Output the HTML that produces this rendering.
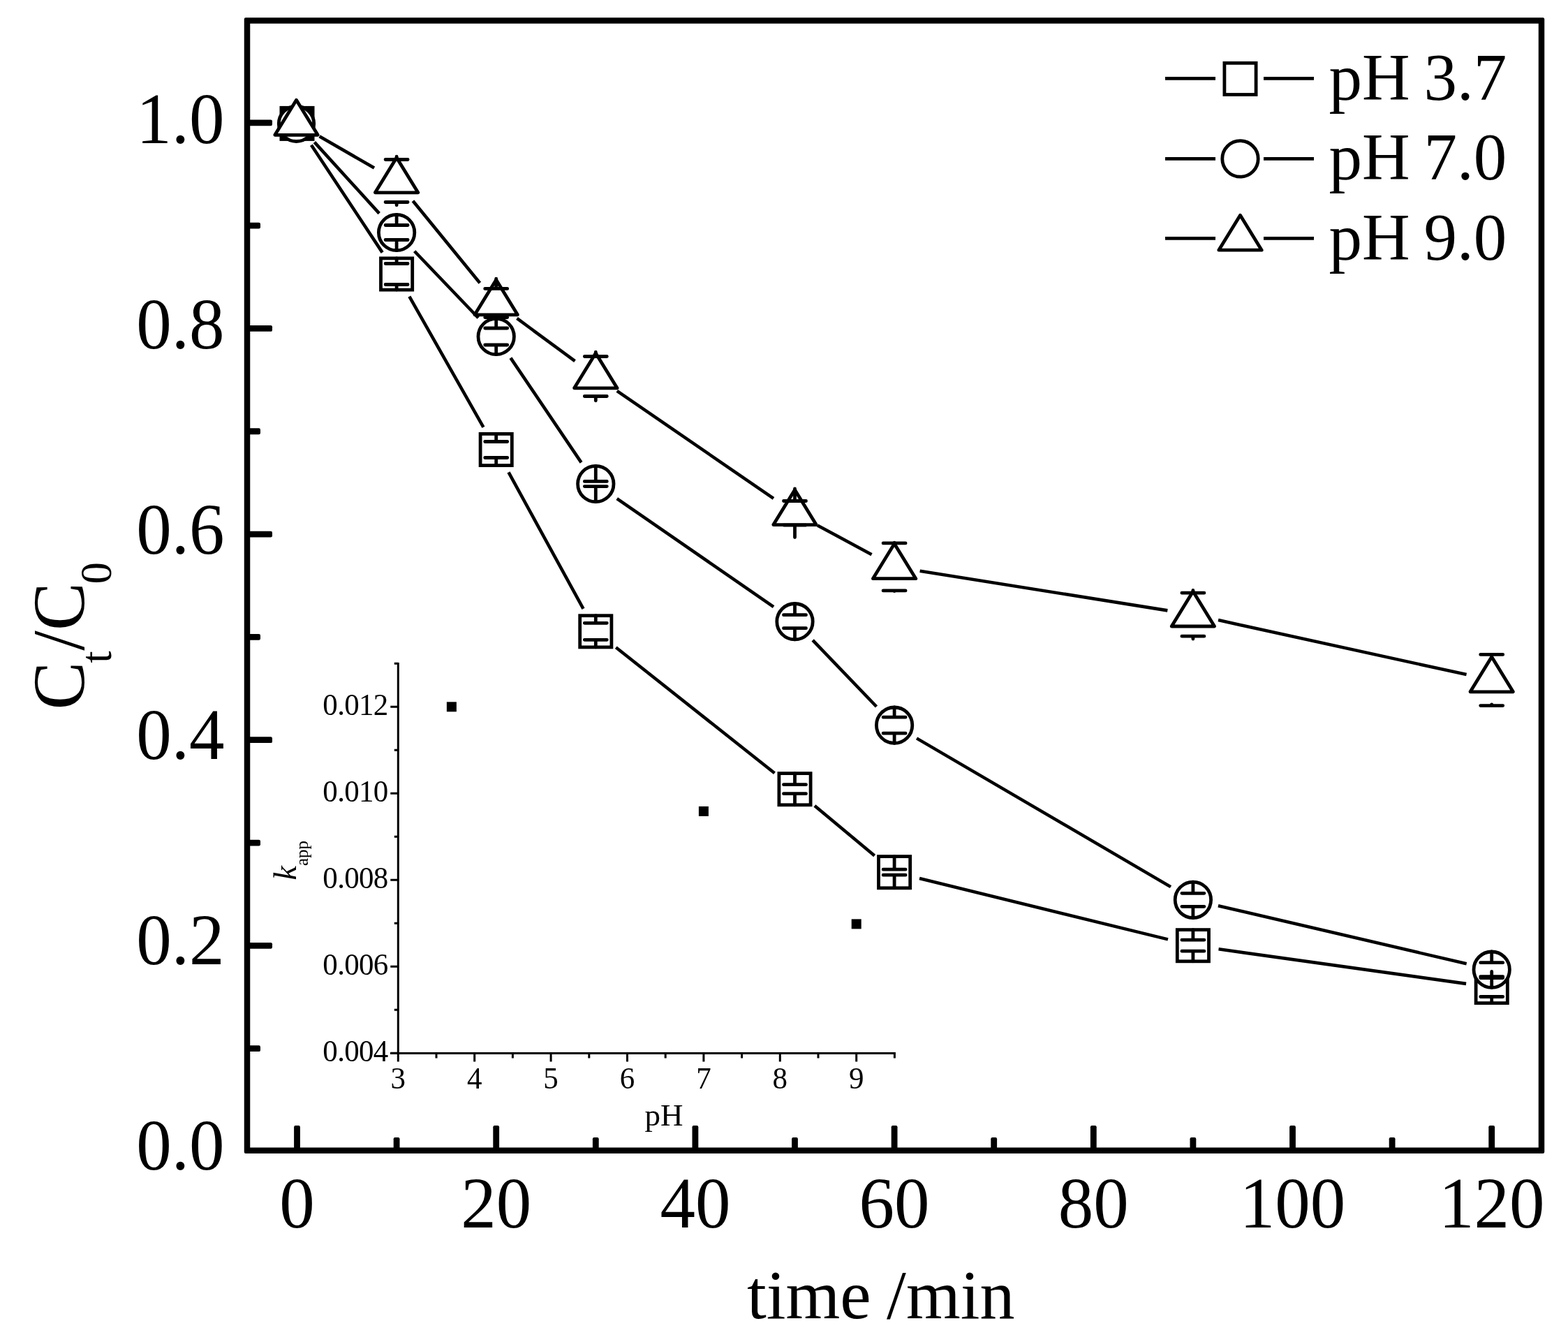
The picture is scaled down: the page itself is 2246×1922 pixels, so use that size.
<!DOCTYPE html><html><head><meta charset="utf-8"><title>Ct/C0 vs time</title><style>html,body{margin:0;padding:0;background:#fff;}svg{display:block;}text{font-family:'Liberation Serif','Times New Roman',serif;fill:#000;}</style></head><body>
<svg width="2246" height="1922" viewBox="0 0 2246 1922">
<rect x="0" y="0" width="2246" height="1922" fill="#fff"/>
<path d="M445.91 207.76L547.69 361.64M586.35 424.69L692.45 611.81M728.48 676.45L835.52 871.85M882.3 927.27L1109.5 1107.23M1166.91 1153.91L1252.69 1225.49M1317.03 1258.02L1672.97 1345.38M1745.54 1359.32L2100.06 1408.88M450.4 203.67L543.2 305.63M593.68 359.73L685.12 455.27M731.42 512.66L832.58 662.34M883.73 714.04L1108.07 869.16M1164.13 916.89L1255.47 1012.01M1313.04 1057.37L1676.96 1270.13M1744.93 1297.21L2100.67 1380.29M457.56 195.28L536.04 240.52M591.47 287.68L687.33 405.32M740.49 455.94L823.51 517.06M883.8 559.94L1108 713.86M1171.05 752.4L1248.55 794.3M1317.64 817.73L1672.36 874.37M1745.04 888.12L2100.56 966.08" fill="none" stroke="#000" stroke-width="4.6" stroke-linecap="butt"/>
<g>
<rect x="402.9" y="154.3" width="45.2" height="45.2" fill="#000" stroke="#000" stroke-width="4.8"/>
<rect x="545.5" y="369.9" width="45.2" height="45.2" fill="#fff" stroke="#000" stroke-width="4.8"/>
<rect x="688.1" y="621.4" width="45.2" height="45.2" fill="#fff" stroke="#000" stroke-width="4.8"/>
<rect x="830.7" y="881.7" width="45.2" height="45.2" fill="#fff" stroke="#000" stroke-width="4.8"/>
<rect x="1115.9" y="1107.6" width="45.2" height="45.2" fill="#fff" stroke="#000" stroke-width="4.8"/>
<rect x="1258.5" y="1226.6" width="45.2" height="45.2" fill="#fff" stroke="#000" stroke-width="4.8"/>
<rect x="1686.3" y="1331.6" width="45.2" height="45.2" fill="#fff" stroke="#000" stroke-width="4.8"/>
<rect x="2114.1" y="1391.4" width="45.2" height="45.2" fill="#fff" stroke="#000" stroke-width="4.8"/>
<circle cx="424.5" cy="177.3" r="25.2" fill="#fff" stroke="#000" stroke-width="4.8"/>
<circle cx="568.1" cy="333" r="25.7" fill="#fff" stroke="#000" stroke-width="4.8"/>
<circle cx="710.7" cy="482" r="25.7" fill="#fff" stroke="#000" stroke-width="4.8"/>
<circle cx="853.3" cy="693" r="25.7" fill="#fff" stroke="#000" stroke-width="4.8"/>
<circle cx="1138.5" cy="890.2" r="25.7" fill="#fff" stroke="#000" stroke-width="4.8"/>
<circle cx="1281.1" cy="1038.7" r="25.7" fill="#fff" stroke="#000" stroke-width="4.8"/>
<circle cx="1708.9" cy="1288.8" r="25.7" fill="#fff" stroke="#000" stroke-width="4.8"/>
<circle cx="2136.7" cy="1388.7" r="25.7" fill="#fff" stroke="#000" stroke-width="4.8"/>
<polygon points="424.5,143.3 455.2,193.3 393.8,193.3" fill="#fff" stroke="#000" stroke-width="4.8" stroke-linejoin="round"/>
<polygon points="568.1,225.8 598.8,275.8 537.4,275.8" fill="#fff" stroke="#000" stroke-width="4.8" stroke-linejoin="round"/>
<polygon points="710.7,400.8 741.4,450.8 680,450.8" fill="#fff" stroke="#000" stroke-width="4.8" stroke-linejoin="round"/>
<polygon points="853.3,505.8 884,555.8 822.6,555.8" fill="#fff" stroke="#000" stroke-width="4.8" stroke-linejoin="round"/>
<polygon points="1138.5,701.6 1169.2,751.6 1107.8,751.6" fill="#fff" stroke="#000" stroke-width="4.8" stroke-linejoin="round"/>
<polygon points="1281.1,778.7 1311.8,828.7 1250.4,828.7" fill="#fff" stroke="#000" stroke-width="4.8" stroke-linejoin="round"/>
<polygon points="1708.9,847 1739.6,897 1678.2,897" fill="#fff" stroke="#000" stroke-width="4.8" stroke-linejoin="round"/>
<polygon points="2136.7,940.8 2167.4,990.8 2106,990.8" fill="#fff" stroke="#000" stroke-width="4.8" stroke-linejoin="round"/>
</g>
<path d="M552.1 377.5H584.1M552.1 407.5H584.1M568.1 369.9V377.5M568.1 415.1V407.5M694.7 632.5H726.7M694.7 655.5H726.7M710.7 621.4V632.5M710.7 666.6V655.5M837.3 892.3H869.3M837.3 916.3H869.3M853.3 881.7V892.3M853.3 926.9V916.3M1122.5 1123.7H1154.5M1122.5 1136.7H1154.5M1138.5 1107.6V1123.7M1138.5 1152.8V1136.7M1265.1 1245.2H1297.1M1265.1 1253.2H1297.1M1281.1 1226.6V1245.2M1281.1 1271.8V1253.2M1692.9 1346.2H1724.9M1692.9 1362.2H1724.9M1708.9 1331.6V1346.2M1708.9 1376.8V1362.2M2120.7 1400.5H2152.7M2120.7 1427.5H2152.7M2136.7 1391.4V1400.5M2136.7 1436.6V1427.5M552.1 322.5H584.1M552.1 343.5H584.1M568.1 307.3V322.5M568.1 358.7V343.5M694.7 470H726.7M694.7 494H726.7M710.7 456.3V470M710.7 507.7V494M837.3 689.45H869.3M837.3 696.55H869.3M853.3 667.3V689.45M853.3 718.7V696.55M1122.5 880.7H1154.5M1122.5 899.7H1154.5M1138.5 864.5V880.7M1138.5 915.9V899.7M1265.1 1027.2H1297.1M1265.1 1050.2H1297.1M1281.1 1013V1027.2M1281.1 1064.4V1050.2M1692.9 1279.3H1724.9M1692.9 1298.3H1724.9M1708.9 1263.1V1279.3M1708.9 1314.5V1298.3M2120.7 1378.7H2152.7M2120.7 1398.7H2152.7M2136.7 1363V1378.7M2136.7 1414.4V1398.7M552.1 228.5H584.1M552.1 289.5H584.1M568.1 224.2V228.5M568.1 293.8V289.5M694.7 413.4H726.7M694.7 454.6H726.7M710.7 399.2V413.4M710.7 468.8V454.6M837.3 510.5H869.3M837.3 567.5H869.3M853.3 504.2V510.5M853.3 573.8V567.5M1122.5 717.5H1154.5M1122.5 752.1H1154.5M1138.5 700V717.5M1138.5 769.6V752.1M1265.1 777.9H1297.1M1265.1 845.9H1297.1M1281.1 777.1V777.9M1281.1 846.7V845.9M1692.9 849.2H1724.9M1692.9 911.2H1724.9M1708.9 845.4V849.2M1708.9 915V911.2M2120.7 937.4H2152.7M2120.7 1010.6H2152.7M2136.7 939.2V937.4M2136.7 1008.8V1010.6" fill="none" stroke="#000" stroke-width="4.8" stroke-linecap="round"/>
<path d="M351.95 25.25H2210.05Q2212.25 25.25 2212.25 27.45V1649.85Q2212.25 1652.05 2210.05 1652.05H351.95Q349.75 1652.05 349.75 1649.85V27.45Q349.75 25.25 351.95 25.25ZM358.25 33.75H2203.75V1643.55H358.25Z" fill="#000" fill-rule="evenodd"/>
<rect x="421.1" y="1612" width="8.8" height="35.8" rx="2.2" fill="#000"/>
<rect x="563.7" y="1629" width="8.8" height="18.8" rx="2.2" fill="#000"/>
<rect x="706.3" y="1612" width="8.8" height="35.8" rx="2.2" fill="#000"/>
<rect x="848.9" y="1629" width="8.8" height="18.8" rx="2.2" fill="#000"/>
<rect x="991.5" y="1612" width="8.8" height="35.8" rx="2.2" fill="#000"/>
<rect x="1134.1" y="1629" width="8.8" height="18.8" rx="2.2" fill="#000"/>
<rect x="1276.7" y="1612" width="8.8" height="35.8" rx="2.2" fill="#000"/>
<rect x="1419.3" y="1629" width="8.8" height="18.8" rx="2.2" fill="#000"/>
<rect x="1561.9" y="1612" width="8.8" height="35.8" rx="2.2" fill="#000"/>
<rect x="1704.5" y="1629" width="8.8" height="18.8" rx="2.2" fill="#000"/>
<rect x="1847.1" y="1612" width="8.8" height="35.8" rx="2.2" fill="#000"/>
<rect x="1989.7" y="1629" width="8.8" height="18.8" rx="2.2" fill="#000"/>
<rect x="2132.3" y="1612" width="8.8" height="35.8" rx="2.2" fill="#000"/>
<rect x="354.0" y="1497.28" width="19" height="8.8" rx="2.2" fill="#000"/>
<rect x="354.0" y="1349.96" width="36" height="8.8" rx="2.2" fill="#000"/>
<rect x="354.0" y="1202.64" width="19" height="8.8" rx="2.2" fill="#000"/>
<rect x="354.0" y="1055.32" width="36" height="8.8" rx="2.2" fill="#000"/>
<rect x="354.0" y="908" width="19" height="8.8" rx="2.2" fill="#000"/>
<rect x="354.0" y="760.68" width="36" height="8.8" rx="2.2" fill="#000"/>
<rect x="354.0" y="613.36" width="19" height="8.8" rx="2.2" fill="#000"/>
<rect x="354.0" y="466.04" width="36" height="8.8" rx="2.2" fill="#000"/>
<rect x="354.0" y="318.72" width="19" height="8.8" rx="2.2" fill="#000"/>
<rect x="354.0" y="171.4" width="36" height="8.8" rx="2.2" fill="#000"/>
<text transform="translate(321.5 1674.6) scale(1 1.027)" font-size="101" text-anchor="end">0.0</text>
<text transform="translate(321.5 1380.68) scale(1 1.027)" font-size="101" text-anchor="end">0.2</text>
<text transform="translate(321.5 1086.76) scale(1 1.027)" font-size="101" text-anchor="end">0.4</text>
<text transform="translate(321.5 792.84) scale(1 1.027)" font-size="101" text-anchor="end">0.6</text>
<text transform="translate(321.5 498.92) scale(1 1.027)" font-size="101" text-anchor="end">0.8</text>
<text transform="translate(321.5 205) scale(1 1.027)" font-size="101" text-anchor="end">1.0</text>
<text transform="translate(425.5 1757.7) scale(1 1.027)" font-size="101" text-anchor="middle">0</text>
<text transform="translate(710.7 1757.7) scale(1 1.027)" font-size="101" text-anchor="middle">20</text>
<text transform="translate(995.9 1757.7) scale(1 1.027)" font-size="101" text-anchor="middle">40</text>
<text transform="translate(1281.1 1757.7) scale(1 1.027)" font-size="101" text-anchor="middle">60</text>
<text transform="translate(1566.3 1757.7) scale(1 1.027)" font-size="101" text-anchor="middle">80</text>
<text transform="translate(1851.5 1757.7) scale(1 1.027)" font-size="101" text-anchor="middle">100</text>
<text transform="translate(2136.7 1757.7) scale(1 1.027)" font-size="101" text-anchor="middle">120</text>
<text x="1069.9" y="1888" font-size="100">time <tspan x="1270.1">/min</tspan></text>
<text transform="translate(120 1016.5) rotate(-90) scale(1 1.02)" font-size="103">C<tspan x="67" y="38.5" font-size="62">t</tspan><tspan x="84.8" y="0">/C</tspan><tspan x="180.2" y="38.5" font-size="62">0</tspan></text>
<path d="M1669 112.4H1741M1810 112.4H1882M1669 227.4H1741M1810 227.4H1882M1669 341.4H1741M1810 341.4H1882" fill="none" stroke="#000" stroke-width="4.6"/>
<rect x="1753.9" y="90.3" width="45.2" height="45.2" fill="#fff" stroke="#000" stroke-width="4.8"/>
<text x="1903.4" y="142.7" font-size="95">pH <tspan x="2039.6">3.7</tspan></text>
<circle cx="1776.5" cy="227.4" r="25.7" fill="#fff" stroke="#000" stroke-width="4.8"/>
<text x="1903.4" y="257.3" font-size="95">pH <tspan x="2039.6">7.0</tspan></text>
<polygon points="1776.5,308.2 1807.2,358.2 1745.8,358.2" fill="#fff" stroke="#000" stroke-width="4.8" stroke-linejoin="round"/>
<text x="1903.4" y="371.9" font-size="95">pH <tspan x="2039.6">9.0</tspan></text>
<path d="M570.3 949V1508.5M559 1508.5H1282.9M559.3 1508.3H570.3M564.8 1446.3H570.3M559.3 1384.3H570.3M564.8 1322.3H570.3M559.3 1260.3H570.3M564.8 1198.3H570.3M559.3 1136.3H570.3M564.8 1074.3H570.3M559.3 1012.3H570.3M564.8 950.3H570.3M570.3 1508.5V1520.5M625 1508.5V1515.5M679.7 1508.5V1520.5M734.4 1508.5V1515.5M789.1 1508.5V1520.5M843.8 1508.5V1515.5M898.5 1508.5V1520.5M953.2 1508.5V1515.5M1007.9 1508.5V1520.5M1062.6 1508.5V1515.5M1117.3 1508.5V1520.5M1172 1508.5V1515.5M1226.7 1508.5V1520.5M1281.4 1508.5V1515.5" fill="none" stroke="#000" stroke-width="3.0"/>
<text transform="translate(555.6 1520.3) scale(1 1.05)" font-size="43" letter-spacing="-0.7" text-anchor="end">0.004</text>
<text transform="translate(555.6 1396.3) scale(1 1.05)" font-size="43" letter-spacing="-0.7" text-anchor="end">0.006</text>
<text transform="translate(555.6 1272.3) scale(1 1.05)" font-size="43" letter-spacing="-0.7" text-anchor="end">0.008</text>
<text transform="translate(555.6 1148.3) scale(1 1.05)" font-size="43" letter-spacing="-0.7" text-anchor="end">0.010</text>
<text transform="translate(555.6 1024.3) scale(1 1.05)" font-size="43" letter-spacing="-0.7" text-anchor="end">0.012</text>
<text transform="translate(570.3 1558.5) scale(1 1.05)" font-size="43" text-anchor="middle">3</text>
<text transform="translate(679.7 1558.5) scale(1 1.05)" font-size="43" text-anchor="middle">4</text>
<text transform="translate(789.1 1558.5) scale(1 1.05)" font-size="43" text-anchor="middle">5</text>
<text transform="translate(898.5 1558.5) scale(1 1.05)" font-size="43" text-anchor="middle">6</text>
<text transform="translate(1007.9 1558.5) scale(1 1.05)" font-size="43" text-anchor="middle">7</text>
<text transform="translate(1117.3 1558.5) scale(1 1.05)" font-size="43" text-anchor="middle">8</text>
<text transform="translate(1226.7 1558.5) scale(1 1.05)" font-size="43" text-anchor="middle">9</text>
<text x="923.5" y="1611.9" font-size="45">pH</text>
<text transform="translate(424 1260.4) rotate(-90)" font-size="46"><tspan font-style="italic">k</tspan><tspan x="20.3" y="17" font-size="25">app</tspan></text>
<rect x="639.88" y="1005.3" width="14" height="14" fill="#000"/>
<rect x="1000.9" y="1154.91" width="14" height="14" fill="#000"/>
<rect x="1219.7" y="1316.35" width="14" height="14" fill="#000"/>
</svg></body></html>
